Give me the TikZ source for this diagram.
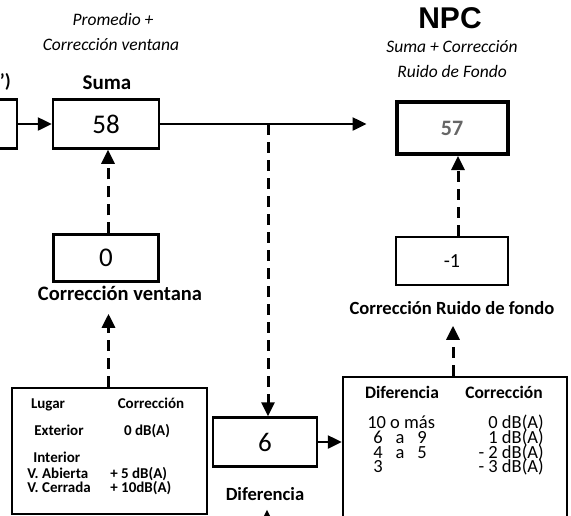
\documentclass[tikz,border=0pt]{standalone}
\usepackage{fontspec}
\setmainfont{Carlito}
\newfontfamily\arialfont{Liberation Sans}
\usetikzlibrary{arrows.meta,positioning,calc}

\begin{document}
\begin{tikzpicture}[>={Triangle[length=14pt,width=13pt]},x=1pt,y=-1pt,semithick]
	\tikzset{valbox/.style = {draw,line width=2.5pt,minimum width=106pt,minimum height=49pt,inner sep=0pt,font=\fontsize{27}{27}\selectfont}}
	\tikzset{tabbox/.style = {draw,line width=2.5pt,inner sep=0pt}}
	\tikzset{title/.style = {anchor=base,font=\bfseries\fontsize{19}{19}\selectfont}}
	\tikzset{note/.style = {anchor=base,font=\itshape\fontsize{17.5}{17.5}\selectfont}}
	\tikzset{lcell/.style = {anchor=base,inner sep=0pt,font=\bfseries\fontsize{15}{15}\selectfont}}
	\tikzset{rcell/.style = {anchor=base,inner sep=0pt,font=\fontsize{18.5}{18.5}\selectfont}}
	\tikzset{flow/.style = {->,line width=2.5pt}}
	\tikzset{dflow/.style = {->,line width=3pt,dash pattern=on 11pt off 7pt}}
	\useasboundingbox (0,0) rectangle (571,515);
	\clip (0,0) rectangle (571,515);
	% boxes
	\node[valbox,minimum width=76pt] (prev) at (-21,124) {};
	\node[valbox] (suma) at (106,124) {58};
	\node[valbox,line width=4pt,minimum width=111pt,minimum height=52pt,font=\bfseries\fontsize{22}{22}\selectfont,text=black!60] (npc) at (452,128) {57};
	\node[valbox,minimum width=105pt,minimum height=47pt] (corrv) at (106,258) {0};
	\node[valbox,minimum width=112pt,minimum height=48pt,font=\fontsize{20}{20}\selectfont] (rfondo) at (452,261) {-1};
	\node[valbox,minimum width=104pt,minimum height=49pt] (diff) at (265,442) {6};
	\node[tabbox,minimum width=195pt,minimum height=126pt] (lugartab) at (109.5,451) {};
	\node[tabbox,minimum width=224pt,minimum height=200pt] (difftab) at (455,477) {};
	% labels
	\node[title,anchor=base east,inner sep=0pt] (prevlab) at (11,87) {')};
	\node[note] (prom1) at (113,25) {Promedio +};
	\node[note] (prom2) at (111,50) {Corrección ventana};
	\node[title,font=\bfseries\fontsize{21}{21}\selectfont] (sumalab) at (107,89) {Suma};
	\node[anchor=base,font=\arialfont\bfseries\fontsize{30}{30}\selectfont] (npclab) at (450,28) {NPC};
	\node[note] (npc1) at (452,52) {Suma + Corrección};
	\node[note] (npc2) at (452,77) {Ruido de Fondo};
	\node[title,font=\bfseries\fontsize{20.5}{20.5}\selectfont] (corrvlab) at (120,300) {Corrección ventana};
	\node[title,font=\bfseries\fontsize{18.6}{18.6}\selectfont] (rfondolab) at (452,314) {Corrección Ruido de fondo};
	\node[title,font=\bfseries\fontsize{18.6}{18.6}\selectfont] (difflab) at (265,500) {Diferencia};
	% table cells
	\node[lcell] (lugar) at (48,408) {Lugar};
	\node[lcell] (lcorr) at (151,408) {Corrección};
	\node[lcell] (ext) at (59,435) {Exterior};
	\node[lcell] (extv) at (147,435) {0 dB(A)};
	\node[lcell,anchor=base west] (inte) at (33,462) {Interior};
	\node[lcell,anchor=base west] (vab) at (27,478) {V. Abierta};
	\node[lcell,anchor=base west] (vce) at (27,492) {V. Cerrada};
	\node[lcell,anchor=base west] (vabv) at (110,478) {+ 5 dB(A)};
	\node[lcell,anchor=base west] (vcev) at (110,492) {+ 10dB(A)};
	\node[rcell,font=\bfseries\fontsize{17.5}{17.5}\selectfont] (dif) at (402,398) {Diferencia};
	\node[rcell,font=\bfseries\fontsize{17.5}{17.5}\selectfont] (rcorr) at (504,398) {Corrección};
	\node[rcell,anchor=base west] (r1) at (367,428) {10 o más};
	\node[rcell,anchor=base west] (r2) at (373,443) {6\hspace{0.7em}a\hspace{0.7em}9};
	\node[rcell,anchor=base west] (r3) at (373,458) {4\hspace{0.7em}a\hspace{0.7em}5};
	\node[rcell,anchor=base west] (r4) at (373,472) {3};
	\node[rcell,anchor=base east] (r1v) at (544,428) {0 dB(A)};
	\node[rcell,anchor=base east] (r2v) at (544,443) {1 dB(A)};
	\node[rcell,anchor=base east] (r3v) at (544,458) {- 2 dB(A)};
	\node[rcell,anchor=base east] (r4v) at (544,472) {- 3 dB(A)};
	% connectors
	\coordinate (split) at (268,124);
	\coordinate (below) at (267,540);
	\draw[flow] (prev) -- (suma);
	\draw[flow,shorten >=28pt] (suma) -- (suma -| npc.west);
	\draw[dflow] (split) -- (split |- diff.north);
	\draw[dflow] ([xshift=2pt]corrv.north) -- ([xshift=2pt]suma.south);
	\draw[dflow,shorten >=10pt] ([xshift=-1pt]lugartab.north) -- ([xshift=-1pt]lugartab.north |- corrvlab.south);
	\draw[dflow] ([xshift=6pt]rfondo.north) -- ([xshift=6pt]npc.south);
	\draw[dflow,shorten >=8pt] ([xshift=-2pt]difftab.north) -- ([xshift=-2pt]difftab.north |- rfondolab.south);
	\draw[flow] (diff.east) -- (diff.east -| difftab.west);
	\draw[flow,shorten >=6pt] (below) -- (below |- difflab.south);
\end{tikzpicture}
\end{document}
